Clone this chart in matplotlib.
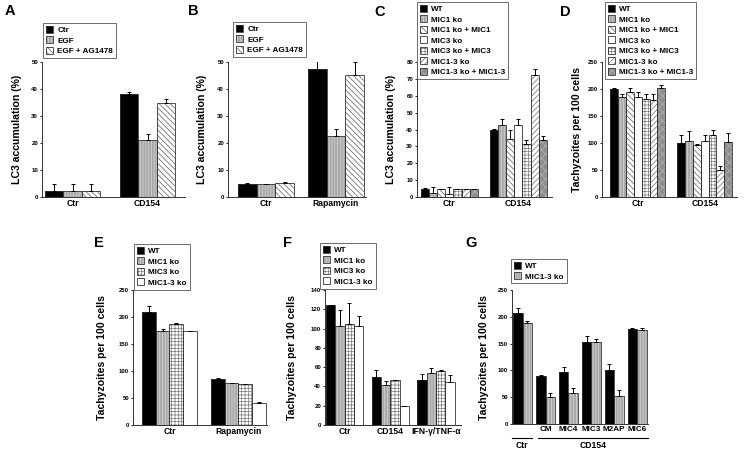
import matplotlib
matplotlib.use("Agg")
import matplotlib.pyplot as plt
import numpy as np
from matplotlib.patches import Patch

plt.rcParams.update({
    'font.family': ['Liberation Sans', 'DejaVu Sans'],
    'font.weight': 'bold',
    'hatch.linewidth': 0.5,
    'axes.linewidth': 0.7,
})

W, H = 744, 451

# ── Data ───────────────────────────────────────────────────────────────────────
a_groups = ["Ctr", "CD154"]
a_series = ["Ctr", "EGF", "EGF + AG1478"]
a_vals = np.array([[2.2, 2.2, 2.2], [38.3, 21.2, 34.8]])
a_errs = np.array([[2.7, 2.7, 2.7], [0.5, 2.3, 1.6]])

b_groups = ["Ctr", "Rapamycin"]
b_series = ["Ctr", "EGF", "EGF + AG1478"]
b_vals = np.array([[4.8, 4.8, 5.1], [47.5, 22.7, 45.3]])
b_errs = np.array([[0.3, 0.1, 0.3], [2.7, 2.5, 4.8]])

c_groups = ["Ctr", "CD154"]
c_series = ["WT", "MIC1 ko", "MIC1 ko + MIC1", "MIC3 ko", "MIC3 ko + MIC3",
            "MIC1-3 ko", "MIC1-3 ko + MIC1-3"]
c_vals = np.array([[5.0, 2.2, 5.0, 1.8, 5.0, 5.0, 5.0],
                   [39.5, 42.7, 34.4, 42.7, 31.6, 72.5, 34.0]])
c_errs = np.array([[0.3, 3.8, 0.0, 4.2, 0.0, 0.0, 0.0],
                   [0.8, 3.7, 5.1, 3.7, 2.0, 3.5, 2.0]])

d_groups = ["Ctr", "CD154"]
d_series = c_series
d_vals = np.array([[200, 186, 195, 185, 181, 179, 201],
                   [100, 104, 95.5, 104, 114, 50, 102.5]])
d_errs = np.array([[2.5, 5, 6, 9, 9, 11, 6],
                   [15, 19, 2.5, 10, 11, 7, 15.5]])

e_groups = ["Ctr", "Rapamycin"]
e_series = ["WT", "MIC1 ko", "MIC3 ko", "MIC1-3 ko"]
e_vals = np.array([[210, 175, 187, 173.5], [84.6, 77, 76, 41]])
e_errs = np.array([[11, 2.5, 2.5, 1.5], [2, 0.5, 0.5, 2]])

f_groups = ["Ctr", "CD154", "IFN-γ/TNF-α"]
f_series = e_series
f_vals = np.array([[124.5, 102.8, 105, 103],
                   [49.8, 41, 47, 20],
                   [47, 54, 55.7, 45]])
f_errs = np.array([[0, 16.5, 22, 10],
                   [7, 5, 0, 0],
                   [6, 5.5, 1, 6.5]])

g_groups = ["", "CM", "MIC4", "MIC3", "M2AP", "MIC6"]
g_series = ["WT", "MIC1-3 ko"]
g_vals = np.array([[208, 188], [89, 51], [97, 57], [153, 153], [101, 53], [177, 176]])
g_errs = np.array([[9, 5], [3, 6], [10, 10], [11, 5], [11, 10], [2, 3]])

# ── Bar styles: (face, hatch, hatch colour) ────────────────────────────────────
STY = {
    "black":  ("black", None, "black"),
    "vgray":  ("#a8a8a8", "|" * 6, "#dadada"),
    "bdiag":  ("white", "\\" * 6, "#5a5a5a"),
    "white":  ("white", None, "white"),
    "grid":   ("white", "+" * 5, "#7a7a7a"),
    "fdiag":  ("white", "/" * 6, "#6a6a6a"),
    "dgray":  ("#8e8e8e", "x" * 4, "#b4b4b4"),
}
ab_styles = ["black", "vgray", "bdiag"]
cd_styles = ["black", "vgray", "bdiag", "white", "grid", "fdiag", "dgray"]
ef_styles = ["black", "vgray", "grid", "white"]
g_styles = ["black", "vgray"]

fig = plt.figure(figsize=(W / 100, H / 100), dpi=100)


def rect(x0, y0, x1, y1):
    return [x0 / W, 1 - y1 / H, (x1 - x0) / W, (y1 - y0) / H]


def handle(key):
    face, hatch, hc = STY[key]
    return (Patch(facecolor=face, hatch=hatch, edgecolor=hc, linewidth=0),
            Patch(fill=False, edgecolor="#333333", linewidth=0.6))


def panel(box, bars, vals, errs, styles, ymax, ystep, ylabel, label_x,
          groups, series, leg_xy, letter, letter_xy):
    x0, y0, x1, y1 = box
    first, bw, stride = bars
    ax = fig.add_axes(rect(x0, y0, x1, y1))
    ng, k = vals.shape
    starts = np.arange(ng) * stride / bw
    for i in range(k):
        face, hatch, hc = STY[styles[i]]
        xs = starts + i
        ax.bar(xs, vals[:, i], width=1, align="edge", color=face,
               hatch=hatch, edgecolor=hc, linewidth=0, zorder=2)
        ax.bar(xs, vals[:, i], width=1, align="edge", fill=False,
               edgecolor="#333333", linewidth=0.6, zorder=3)
        ax.errorbar(xs + 0.5, vals[:, i], yerr=[np.zeros(ng), errs[:, i]],
                    fmt="none", ecolor="black", elinewidth=0.7,
                    capsize=1.3, capthick=0.7, zorder=4)
    ax.set_xlim((x0 - first) / bw, (x1 - first) / bw)
    ax.set_ylim(0, ymax)
    ax.set_yticks(np.arange(0, ymax + 1, ystep))
    ax.set_xticks(starts + k / 2)
    ax.set_xticklabels(groups, fontsize=6.2, fontweight="bold")
    ax.tick_params(axis="x", length=0, pad=1.5)
    ax.tick_params(axis="y", length=1.8, width=0.6, labelsize=4.3, pad=1)
    for lab in ax.get_yticklabels():
        lab.set_fontweight("bold")
    for s in ["top", "right"]:
        ax.spines[s].set_visible(False)
    for s in ["left", "bottom"]:
        ax.spines[s].set_color("#333333")
    ax.set_ylabel(ylabel, fontsize=7.6, fontweight="bold")
    ax.yaxis.set_label_coords((label_x - x0) / (x1 - x0), 0.5)

    leg = fig.legend([handle(s) for s in styles], series,
                     loc="upper left",
                     bbox_to_anchor=(leg_xy[0] / W, 1 - leg_xy[1] / H),
                     prop={"size": 5.9, "weight": "bold"},
                     handlelength=0.9, handleheight=0.9, handletextpad=0.5,
                     labelspacing=0.28, borderpad=0.35, borderaxespad=0,
                     fancybox=False, framealpha=1)
    leg.get_frame().set_edgecolor("#555555")
    leg.get_frame().set_linewidth(0.6)

    fig.text(letter_xy[0] / W, 1 - letter_xy[1] / H, letter, fontsize=10.5,
             fontweight="bold", ha="center", va="center")
    return ax


LC3 = "LC3 accumulation (%)"
TACH = "Tachyzoites per 100 cells"

panel((42, 62, 185, 197), (45, 18.4, 75), a_vals, a_errs, ab_styles, 50, 10,
      LC3, 22, a_groups, a_series, (43, 23), "A", (10, 11))
panel((228, 62, 366, 197), (238, 18.6, 70), b_vals, b_errs, ab_styles, 50, 10,
      LC3, 207, b_groups, b_series, (233, 22), "B", (193, 11))
panel((417, 62, 552, 197), (421, 8.1, 69), c_vals, c_errs, cd_styles, 80, 10,
      LC3, 396, c_groups, c_series, (417, 2), "C", (380, 12))
panel((602, 62, 737, 197), (610, 7.9, 67), d_vals, d_errs, cd_styles, 250, 50,
      TACH, 582, d_groups, d_series, (605, 2), "D", (565, 12))
panel((133, 290, 267, 425), (142, 13.7, 69), e_vals, e_errs, ef_styles, 250, 50,
      TACH, 107, e_groups, e_series, (134, 244), "E", (99, 243))
panel((325, 290, 461, 425), (326, 9.3, 45.7), f_vals, f_errs, ef_styles, 140, 20,
      TACH, 297, f_groups, f_series, (320, 243), "F", (288, 243))
ax_g = panel((512, 290, 648, 424), (513, 9.6, 22.9), g_vals, g_errs, g_styles, 250, 50,
             TACH, 489, g_groups, g_series, (511, 259), "G", (471, 243))
for lab in ax_g.get_xticklabels():
    lab.set_fontsize(5.9)

# Second row of group labels under panel G
for (lx0, lx1), txt in zip([(512, 532), (538, 648)], ["Ctr", "CD154"]):
    fig.add_artist(plt.Line2D([lx0 / W, lx1 / W], [1 - 438 / H, 1 - 438 / H],
                              color="black", linewidth=0.8))
    fig.text((lx0 + lx1) / 2 / W, 1 - 446 / H, txt, fontsize=6.2,
             fontweight="bold", ha="center", va="center")

plt.savefig("out.png", dpi=100)
